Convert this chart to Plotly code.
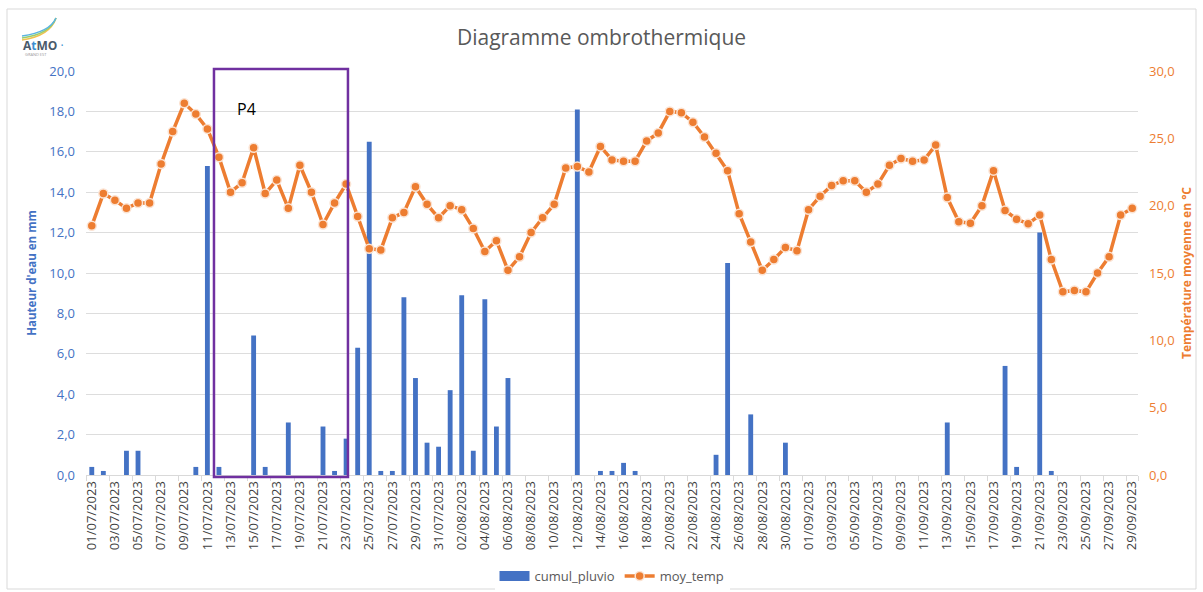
import pandas as pd
import plotly.graph_objects as go

dates = [d.strftime("%d/%m/%Y") for d in pd.date_range("2023-07-01", "2023-09-29", freq="D")]

cumul_pluvio = [
    0.4, 0.2, 0, 1.2, 1.2, 0, 0, 0, 0, 0.4,
    15.3, 0.4, 0, 0, 6.9, 0.4, 0, 2.6, 0, 0,
    2.4, 0.2, 1.8, 6.3, 16.5, 0.2, 0.2, 8.8, 4.8, 1.6,
    1.4,
    4.2, 8.9, 1.2, 8.7, 2.4, 4.8, 0, 0, 0, 0,
    0, 18.1, 0, 0.2, 0.2, 0.6, 0.2, 0, 0, 0,
    0, 0, 0, 1.0, 10.5, 0, 3.0, 0, 0, 1.6,
    0,
    0, 0, 0, 0, 0, 0, 0, 0, 0, 0,
    0, 0, 2.6, 0, 0, 0, 0, 5.4, 0.4, 0,
    12.0, 0.2, 0, 0, 0, 0, 0, 0, 0,
]

moy_temp = [
    18.5, 20.9, 20.4, 19.8, 20.2, 20.2, 23.1, 25.5, 27.6, 26.8,
    25.7, 23.6, 21.0, 21.7, 24.3, 20.9, 21.9, 19.8, 23.0, 21.0,
    18.6, 20.2, 21.6, 19.2, 16.8, 16.7, 19.1, 19.5, 21.4, 20.1,
    19.1,
    20.0, 19.7, 18.3, 16.6, 17.4, 15.2, 16.2, 18.0, 19.1, 20.1,
    22.8, 22.9, 22.5, 24.4, 23.4, 23.3, 23.3, 24.8, 25.4, 27.0,
    26.9, 26.2, 25.1, 23.9, 22.6, 19.4, 17.3, 15.2, 16.0, 16.9,
    16.65,
    19.7, 20.7, 21.5, 21.85, 21.85, 21.0, 21.6, 23.0, 23.5, 23.3,
    23.4, 24.5, 20.6, 18.8, 18.7, 20.0, 22.6, 19.65, 19.0, 18.65,
    19.3, 16.0, 13.6, 13.7, 13.6, 15.0, 16.2, 19.3, 19.8,
]

tick_labels = dates[::2]

BLUE = "#4472C4"
ORANGE = "#ED7D31"
FONT = "Open Sans"

W, H = 1203, 592
L, R, T, B = 86, 65, 71, 117
PW, PH = W - L - R, H - T - B
N = len(dates)


def px(xpix):
    return (xpix - L) / PW


def py(ypix):
    return (H - B - ypix) / PH


fig = go.Figure()
fig.add_trace(go.Bar(
    x=dates, y=cumul_pluvio, name="cumul_pluvio",
    marker=dict(color=BLUE, line=dict(width=0)),
    yaxis="y", showlegend=False,
))
# legend proxy for the bar series (wide swatch like the original)
fig.add_trace(go.Scatter(
    x=[None], y=[None], name="cumul_pluvio", mode="lines",
    line=dict(color=BLUE, width=10), yaxis="y",
))
fig.add_trace(go.Scatter(
    x=dates, y=moy_temp, name="moy_temp", mode="lines+markers",
    line=dict(color=ORANGE, width=3.5),
    marker=dict(color=ORANGE, size=9, line=dict(color="#FBE3D3", width=1.5)),
    yaxis="y2",
))

fig.update_layout(
    width=W, height=H,
    margin=dict(l=L, r=R, t=T, b=B, autoexpand=False),
    paper_bgcolor="white", plot_bgcolor="white",
    separators=",.",
    font=dict(family=FONT, color="#595959"),
    bargap=0.58,
    title=dict(text="Diagramme ombrothermique", x=0.5, xanchor="center",
               y=1 - 38 / H, yanchor="middle",
               font=dict(size=21, color="#595959", family=FONT)),
    showlegend=True,
    legend=dict(orientation="h", x=0.5, xanchor="center", y=py(576), yanchor="middle",
                font=dict(size=13, color="#595959"), itemwidth=30,
                traceorder="normal", tracegroupgap=0),
    xaxis=dict(
        type="category", tickmode="array", tickvals=tick_labels, ticktext=tick_labels,
        tickangle=-90, tickfont=dict(size=13, color="#3F3F3F"),
        showgrid=False, showline=True, linecolor="#D9D9D9", linewidth=1,
        ticks="outside", ticklen=5, tickcolor="#D9D9D9", tickson="boundaries",
        range=[-0.5, N - 0.5], automargin=False,
    ),
    yaxis=dict(
        range=[0, 20], dtick=2, tickformat=".1f",
        tickfont=dict(size=13, color=BLUE),
        gridcolor="#DDDDDD", gridwidth=1, zeroline=False,
        title=dict(text="<b>Hauteur d'eau en mm</b>", font=dict(size=11.5, color=BLUE), standoff=10),
        ticklabelstandoff=10, automargin=False,
    ),
    yaxis2=dict(
        range=[0, 30], dtick=5, tickformat=".1f", overlaying="y", side="right",
        tickfont=dict(size=13, color=ORANGE), showgrid=False, zeroline=False,
        title=dict(text="<b>Température moyenne en °C</b>", font=dict(size=12, color=ORANGE), standoff=8),
        ticklabelstandoff=10, automargin=False,
    ),
)

# P4 period frame (from 11/07-12/07 boundary to just past 23/07)
step = PW / N
fig.add_shape(type="rect", xref="paper", yref="paper",
              x0=(10.57 + 0.5) * step / PW, x1=(22.16 + 0.5) * step / PW,
              y0=py(477), y1=py(69),
              line=dict(color="#7030A0", width=2.5), fillcolor="rgba(0,0,0,0)", layer="above")
fig.add_annotation(text="P4", xref="paper", yref="paper", x=px(235), y=py(96),
                   xanchor="left", yanchor="top", showarrow=False,
                   font=dict(size=16, color="black", family=FONT))

# outer chart border
fig.add_shape(type="rect", xref="paper", yref="paper",
              x0=px(7), x1=px(1196), y0=py(589), y1=py(9),
              line=dict(color="#D9D9D9", width=1), fillcolor="rgba(0,0,0,0)", layer="below")

# logo (text approximation)
fig.add_annotation(text="<b>A<span style='color:#3B8FD0'>t</span>MO</b><span style='color:#3B8FD0'> ·</span>",
                   xref="paper", yref="paper", x=px(21), y=py(46),
                   xanchor="left", yanchor="middle", showarrow=False,
                   font=dict(size=12, color="#4A5A6A", family=FONT))
fig.add_annotation(text="GRAND EST", xref="paper", yref="paper", x=px(23), y=py(55),
                   xanchor="left", yanchor="middle", showarrow=False,
                   font=dict(size=4, color="#999999", family=FONT))
for col, dy in (("#F2C14E", 0), ("#9ACD6A", 2), ("#5BB5E0", 4)):
    fig.add_shape(type="path", xref="paper", yref="paper",
                  path="M %f %f Q %f %f %f %f" % (px(22), py(40 - dy), px(50), py(36 - dy),
                                                  px(56), py(18)),
                  line=dict(color=col, width=1.5))

fig.write_html("out.html", config={"displayModeBar": False},
               post_script="document.body.style.margin='0';document.body.style.overflow='hidden';")
